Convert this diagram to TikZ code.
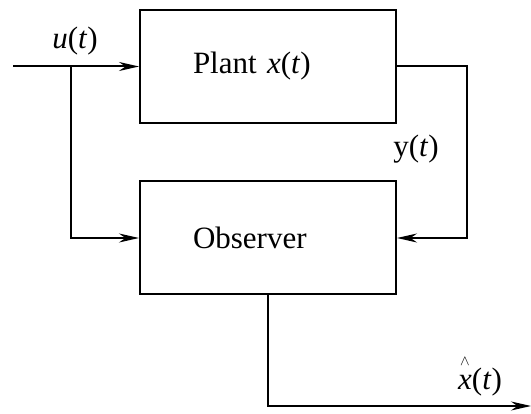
\documentclass[tikz,border=0pt]{standalone}
\usepackage{fontspec}
\setmainfont{Liberation Serif}
\usetikzlibrary{arrows.meta}
\newcommand{\hatmark}{\makebox[0pt][l]{\raisebox{24pt}{\hspace{2pt}\fontsize{15}{15}\selectfont$\wedge$}}}
\begin{document}
\begin{tikzpicture}[x=1pt,y=-1pt,
  font=\fontsize{31}{36}\selectfont,
  blockbox/.style={draw, line width=2pt, minimum width=256pt, minimum height=113pt,
    text width=150pt, align=left, inner xsep=0pt},
  wire/.style={line width=2pt, -{Stealth[length=20pt,width=9pt]}},
  sig/.style={inner sep=0pt}]
\useasboundingbox (0,0) rectangle (531,414);
% the two blocks
\node[blockbox] (plant) at (268,66.5) {\raisebox{-4pt}{Plant \textit{x}(\textit{t})}};
\node[blockbox] (obs) at (268,238) {Observer};
% input, its branch and the measured output
\coordinate (in) at (13,66.5);
\coordinate (br) at (71,66.5);
\coordinate (fb) at (467,66.5);
\coordinate (out) at (531,406);
\draw[wire] (in) -- (plant.west);
\draw[wire] (br) |- (obs.west);
\draw[wire] (plant.east) -- (fb) |- (obs.east);
\draw[wire] (obs.south) |- (out);
% signal names
\node[sig] (lu) at (75,41) {\textit{u}(\textit{t})};
\node[sig] (ly) at (416,149) {y(\textit{t})};
\node[sig, anchor=base west] (lx) at (458,390) {\hatmark\textit{x}(\textit{t})};
\end{tikzpicture}
\end{document}
